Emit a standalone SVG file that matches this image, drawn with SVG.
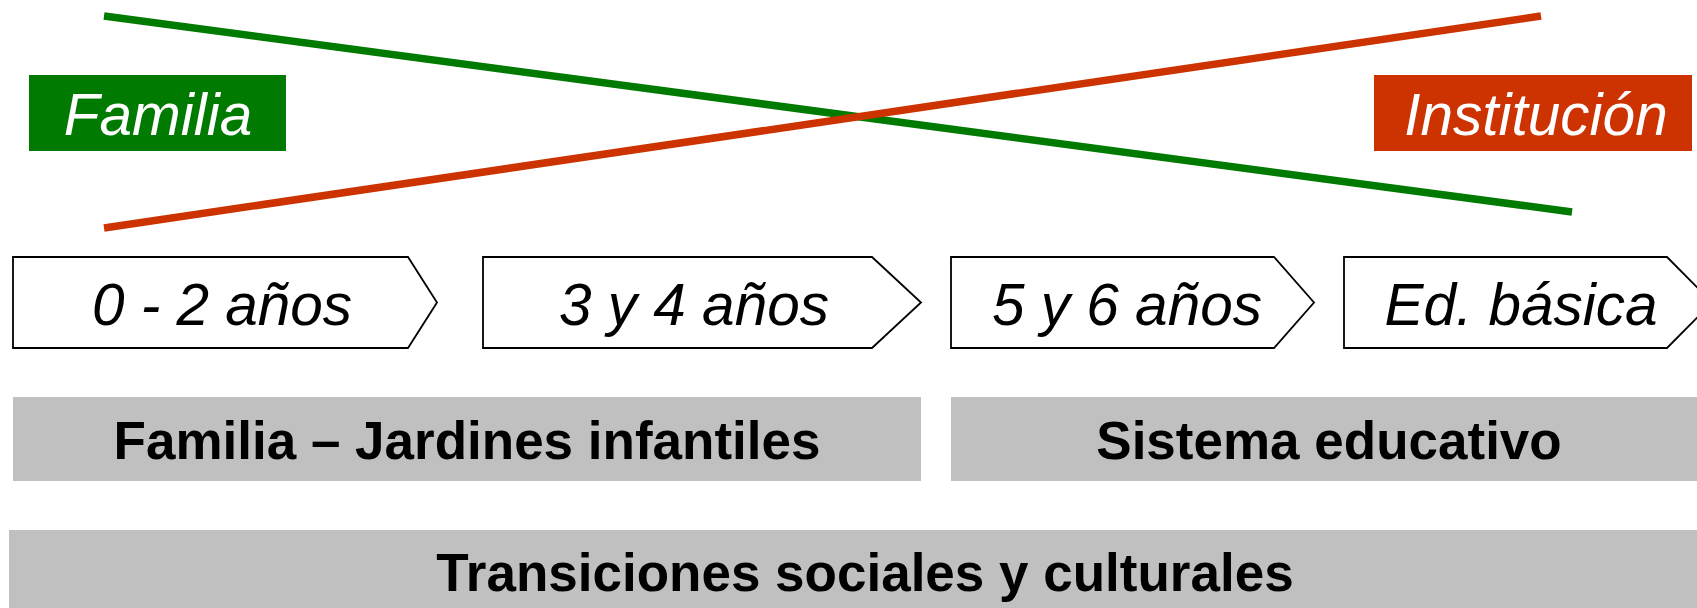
<svg xmlns="http://www.w3.org/2000/svg" width="1697" height="608" viewBox="0 0 1697 608">
<style>
.chev{fill:#fff;stroke:#000;stroke-width:1.8;stroke-linejoin:miter}
.it{font-family:"Liberation Sans",Arial,sans-serif;font-style:italic;font-size:58.5px;text-anchor:middle}
.bd{font-family:"Liberation Sans",Arial,sans-serif;font-weight:bold;font-size:53px;text-anchor:middle;fill:#000}
.gray{fill:#C0C0C0}
</style>
<rect width="1697" height="608" fill="#fff"/>
<g id="connectors">
<line x1="104" y1="16" x2="1572" y2="212" stroke="#007A00" stroke-width="7.5"/>
<line x1="104" y1="228" x2="1541" y2="16" stroke="#CC3300" stroke-width="7.5"/>
</g>
<g id="familia">
<rect x="29" y="75" width="257" height="76" fill="#007A00"/>
<text class="it" x="158" y="135" fill="#fff">Familia</text>
</g>
<g id="institucion">
<rect x="1374" y="75" width="318" height="76" fill="#CC3300"/>
<text class="it" x="1536" y="135" fill="#fff">Institución</text>
</g>
<g id="age02">
<polygon class="chev" points="13,257 408,257 437,302.5 408,348 13,348"/>
<text class="it" x="222" y="325">0 - 2 años</text>
</g>
<g id="age34">
<polygon class="chev" points="483,257 872,257 921,302.5 872,348 483,348"/>
<text class="it" x="694" y="325">3 y 4 años</text>
</g>
<g id="age56">
<polygon class="chev" points="951,257 1274,257 1314,302.5 1274,348 951,348"/>
<text class="it" x="1127" y="325">5 y 6 años</text>
</g>
<g id="edbasica">
<polygon class="chev" points="1344,257 1667,257 1712,302.5 1667,348 1344,348"/>
<text class="it" x="1521" y="325">Ed. básica</text>
</g>
<g id="familia-jardines">
<rect class="gray" x="13" y="397" width="908" height="84"/>
<text class="bd" x="467" y="459">Familia – Jardines infantiles</text>
</g>
<g id="sistema">
<rect class="gray" x="951" y="397" width="746" height="84"/>
<text class="bd" x="1329" y="459">Sistema educativo</text>
</g>
<g id="transiciones">
<rect class="gray" x="9" y="530" width="1688" height="78"/>
<text class="bd" x="865" y="591">Transiciones sociales y culturales</text>
</g>
</svg>
